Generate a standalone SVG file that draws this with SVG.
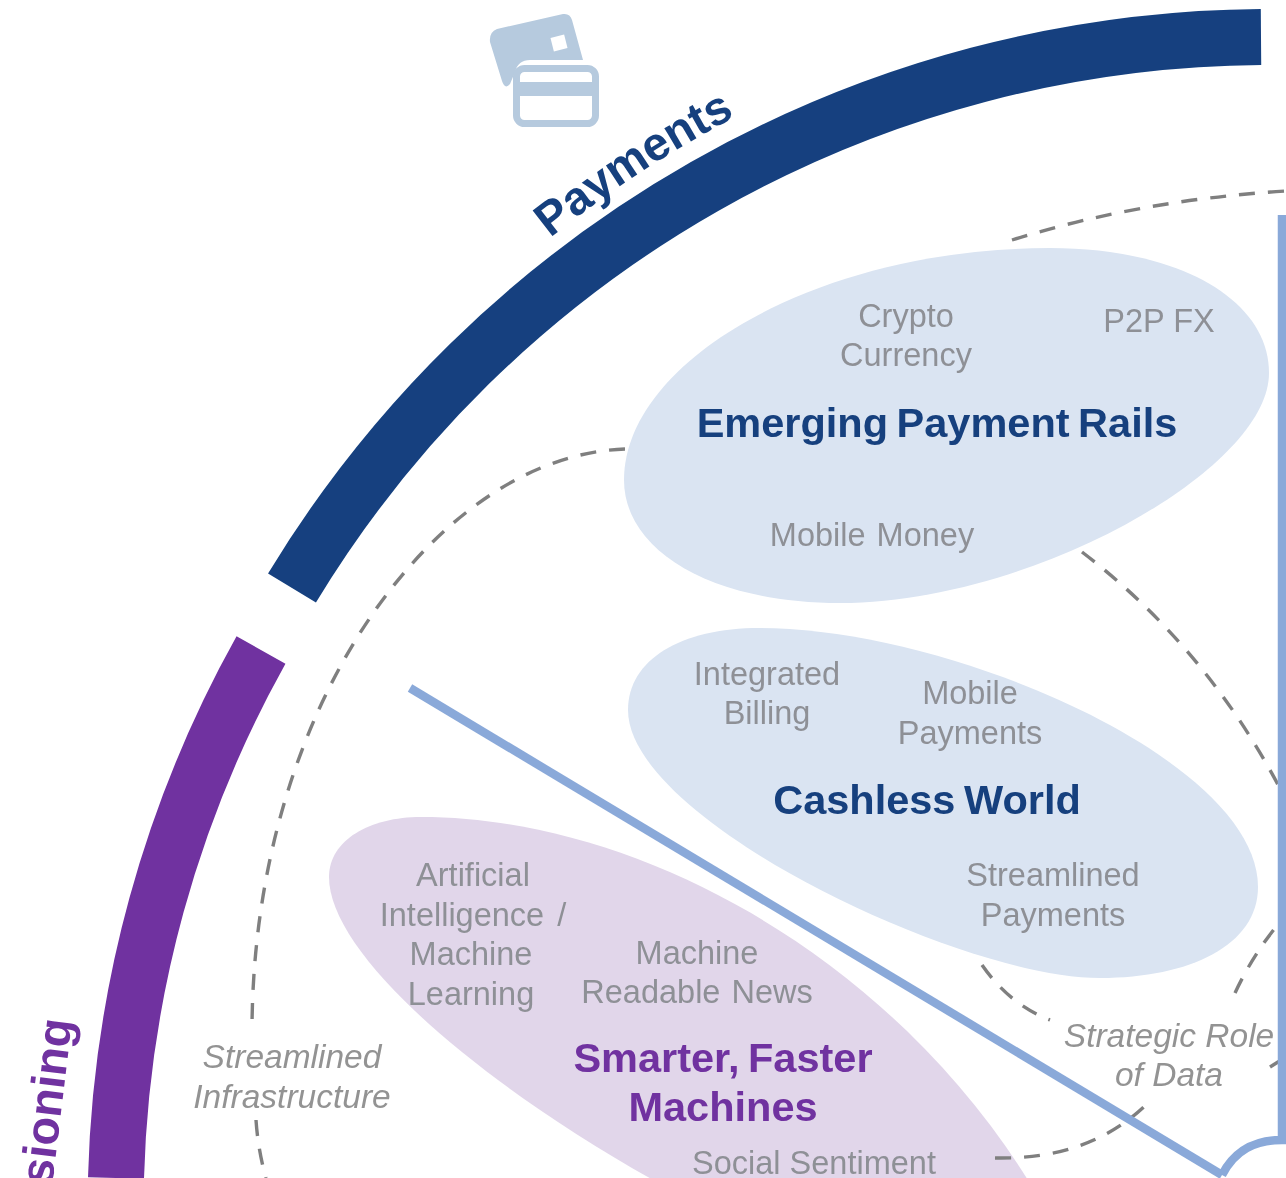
<svg xmlns="http://www.w3.org/2000/svg" width="1286" height="1178" viewBox="0 0 1286 1178">
<style>
text{font-family:"Liberation Sans",Arial,sans-serif}
.g{font-size:32.5px;fill:#8e9096;text-anchor:middle}
.i{font-size:33.500px;fill:#939393;font-style:italic;text-anchor:middle}
.b{font-size:41.500px;font-weight:bold;fill:#17407e;text-anchor:middle;word-spacing:-3px}
.p{font-size:41.500px;font-weight:bold;fill:#7030a0;text-anchor:middle;word-spacing:-3px}
.d{fill:none;stroke:#7f7f7f;stroke-width:3.4;stroke-dasharray:16 13}
.l{fill:none;stroke:#8aa9d9;stroke-width:8.5}
.n1{fill:#dae4f2}
.n2{fill:#e1d6ea}
</style>
<defs>
<filter id="soft" x="-5%" y="-5%" width="110%" height="110%"><feGaussianBlur stdDeviation="0.6"/></filter>
<path id="payArc" d="M550 238A1185 1185 0 0 1 770 99"/>
</defs>
<rect width="1286" height="1178" fill="#fff"/>
<g filter="url(#soft)">
<g id="band-payments">
<path d="M292 588A1143 1143 0 0 1 1261 37" fill="none" stroke="#14407f" stroke-width="56"/>
<text font-size="47" font-weight="bold" fill="#17407e"><textPath href="#payArc">Payments</textPath></text>
</g>
<g id="band-provisioning">
<path d="M261 650A1145 1145 0 0 0 116 1178" fill="none" stroke="#7030a0" stroke-width="56"/>
<text transform="translate(52 1186) rotate(-83)" font-size="47" font-weight="bold" fill="#7030a0">sioning</text>
</g>
<g id="icon-cards">
<path d="M497 29L563 14Q570 13 572 20L583 60H530Q518 60 515 72L510 84Q505 90 502 81L490 42Q489 32 497 29Z" fill="#b6cade"/>
<rect x="552" y="36" width="14" height="14" fill="#fff" transform="rotate(-14 559 43)"/>
<rect x="516.500" y="68.500" width="79" height="55" rx="8" fill="#fff" stroke="#b6cade" stroke-width="7"/>
<rect x="516" y="82" width="80" height="14" fill="#b6cade"/>
</g>
<g id="node-rails">
<path class="n1" d="M624 480C624 360 820 248 1050 248C1180 248 1269 300 1269 373C1269 470 1030 603 840 603C710 603 624 550 624 480Z"/>
<text class="g" x="906" y="327">Crypto</text>
<text class="g" x="906" y="366">Currency</text>
<text class="g" x="1159" y="332">P2P FX</text>
<text class="b" x="937" y="437">Emerging Payment Rails</text>
<text class="g" x="872" y="546" word-spacing="2">Mobile Money</text>
</g>
<g id="node-cashless">
<path class="n1" d="M628 710C628 660 680 628 760 628C950 628 1258 760 1258 887C1258 945 1190 978 1100 978C960 978 628 820 628 710Z"/>
<text class="g" x="767" y="685">Integrated</text>
<text class="g" x="767" y="724">Billing</text>
<text class="g" x="970" y="704">Mobile</text>
<text class="g" x="970" y="744">Payments</text>
<text class="b" x="927" y="814">Cashless World</text>
<text class="g" x="1053" y="886">Streamlined</text>
<text class="g" x="1053" y="926">Payments</text>
</g>
<g id="node-machines">
<path class="n2" d="M329 877C329 840 370 817 421 817C640 817 900 960 1040 1200L690 1200C500 1100 329 960 329 877Z"/>
<text class="g" x="473" y="886">Artificial</text>
<text class="g" x="473" y="926" word-spacing="4">Intelligence /</text>
<text class="g" x="471" y="965">Machine</text>
<text class="g" x="471" y="1005">Learning</text>
<text class="g" x="697" y="964">Machine</text>
<text class="g" x="697" y="1003" word-spacing="2">Readable News</text>
<text class="p" x="723" y="1072">Smarter, Faster</text>
<text class="p" x="723" y="1121">Machines</text>
<text class="g" x="814" y="1174">Social Sentiment</text>
</g>
<g id="label-infrastructure">
<text class="i" x="292" y="1068">Streamlined</text>
<text class="i" x="292" y="1108">Infrastructure</text>
</g>
<g id="label-data">
<text class="i" x="1169" y="1047">Strategic Role</text>
<text class="i" x="1169" y="1086">of Data</text>
</g>
<g id="connectors">
<path class="d" d="M1012 240Q1140 200 1286 191"/>
<path class="d" d="M625 449C440 455 255 700 252 1025"/>
<path class="d" d="M256 1120Q258 1150 266 1178"/>
<path class="d" d="M1082 552Q1210 650 1286 800"/>
<path class="d" d="M982 965Q1010 1005 1050 1020"/>
<path class="d" d="M1235 993Q1255 950 1286 915"/>
<path class="d" d="M1270 1067L1286 1057"/>
<path class="d" d="M995 1158Q1090 1160 1148 1103"/>
<path class="l" d="M410 688L1222 1175"/>
<path class="l" d="M1282 215V1140C1255 1140 1235 1150 1222 1175"/>
</g>
</g>
</svg>
